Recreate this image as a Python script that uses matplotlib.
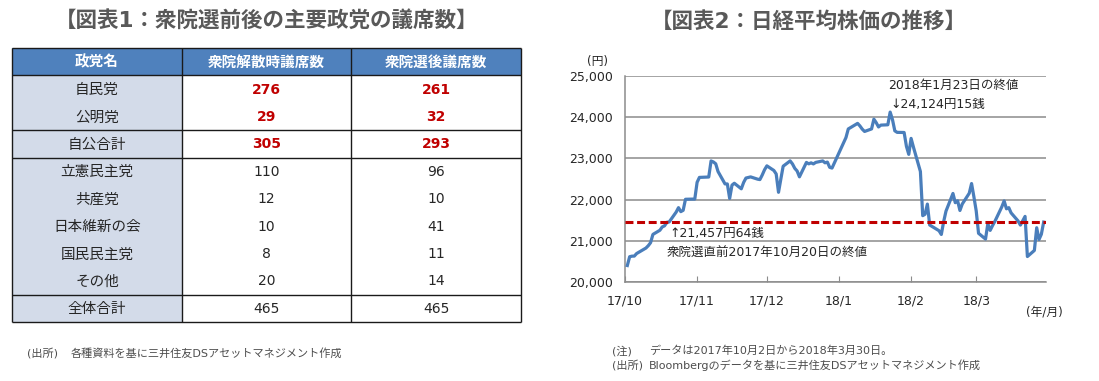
import matplotlib
matplotlib.use("Agg")
import matplotlib.pyplot as plt
from matplotlib.patches import Rectangle
import pandas as pd

plt.rcParams['font.family'] = ['DejaVu Sans', 'Noto Sans CJK JP']

# ---- table data ----
headers = ['政党名', '衆院解散時議席数', '衆院選後議席数']
parties = ['自民党', '公明党', '自公合計', '立憲民主党', '共産党',
           '日本維新の会', '国民民主党', 'その他', '全体合計']
seats_before = [276, 29, 305, 110, 12, 10, 8, 20, 465]
seats_after = [261, 32, 293, 96, 10, 41, 11, 14, 465]
n_red = 3

# ---- nikkei data (close, yen) ----
dates = ['2017-10-02', '2017-10-03', '2017-10-04', '2017-10-05', '2017-10-06',
         '2017-10-10', '2017-10-11', '2017-10-12', '2017-10-13', '2017-10-16',
         '2017-10-17', '2017-10-18', '2017-10-19', '2017-10-20', '2017-10-23',
         '2017-10-24', '2017-10-25', '2017-10-26', '2017-10-27', '2017-10-30',
         '2017-10-31', '2017-11-01', '2017-11-02', '2017-11-06', '2017-11-07',
         '2017-11-08', '2017-11-09', '2017-11-10', '2017-11-13', '2017-11-14',
         '2017-11-15', '2017-11-16', '2017-11-17', '2017-11-20', '2017-11-21',
         '2017-11-22', '2017-11-24', '2017-11-27', '2017-11-28', '2017-11-29',
         '2017-11-30', '2017-12-01', '2017-12-04', '2017-12-05', '2017-12-06',
         '2017-12-07', '2017-12-08', '2017-12-11', '2017-12-12', '2017-12-13',
         '2017-12-14', '2017-12-15', '2017-12-18', '2017-12-19', '2017-12-20',
         '2017-12-21', '2017-12-22', '2017-12-25', '2017-12-26', '2017-12-27',
         '2017-12-28', '2017-12-29', '2018-01-04', '2018-01-05', '2018-01-09',
         '2018-01-10', '2018-01-11', '2018-01-12', '2018-01-15', '2018-01-16',
         '2018-01-17', '2018-01-18', '2018-01-19', '2018-01-22', '2018-01-23',
         '2018-01-24', '2018-01-25', '2018-01-26', '2018-01-29', '2018-01-30',
         '2018-01-31', '2018-02-01', '2018-02-02', '2018-02-05', '2018-02-06',
         '2018-02-07', '2018-02-08', '2018-02-09', '2018-02-13', '2018-02-14',
         '2018-02-15', '2018-02-16', '2018-02-19', '2018-02-20', '2018-02-21',
         '2018-02-22', '2018-02-23', '2018-02-26', '2018-02-27', '2018-02-28',
         '2018-03-01', '2018-03-02', '2018-03-05', '2018-03-06', '2018-03-07',
         '2018-03-08', '2018-03-09', '2018-03-12', '2018-03-13', '2018-03-14',
         '2018-03-15', '2018-03-16', '2018-03-19', '2018-03-20', '2018-03-22',
         '2018-03-23', '2018-03-26', '2018-03-27', '2018-03-28', '2018-03-29',
         '2018-03-30']
closes = [20400, 20614, 20627, 20629, 20691,
          20824, 20881, 20955, 21155, 21256,
          21336, 21363, 21449, 21458, 21697,
          21805, 21708, 21740, 22008, 22012,
          22012, 22420, 22539, 22548, 22938,
          22914, 22869, 22681, 22381, 22380,
          22028, 22351, 22397, 22262, 22416,
          22523, 22551, 22496, 22486, 22597,
          22725, 22819, 22707, 22622, 22177,
          22498, 22811, 22939, 22866, 22758,
          22694, 22553, 22902, 22868, 22892,
          22866, 22903, 22939, 22893, 22911,
          22784, 22765, 23506, 23715, 23850,
          23788, 23710, 23654, 23715, 23952,
          23868, 23763, 23808, 23816, 24124,
          23941, 23669, 23632, 23629, 23292,
          23098, 23486, 23275, 22682, 21610,
          21645, 21891, 21383, 21245, 21154,
          21465, 21720, 22149, 21925, 21971,
          21736, 21893, 22154, 22390, 22068,
          21724, 21182, 21042, 21418, 21253,
          21368, 21469, 21824, 21968, 21777,
          21804, 21677, 21481, 21381, 21592,
          20618, 20766, 21317, 21031, 21159,
          21454]
ref_close = 21457.64
month_ticks = ['2017-10-01', '2017-11-01', '2017-12-01', '2018-01-01', '2018-02-01', '2018-03-01']
month_labels = ['17/10', '17/11', '17/12', '18/1', '18/2', '18/3']

W, H = 1099, 381
fig = plt.figure(figsize=(W / 100, H / 100), dpi=100)
fig.patch.set_facecolor('white')

# background axes in pixel coordinates for table and notes
bg = fig.add_axes([0, 0, 1, 1])
bg.set_xlim(0, W)
bg.set_ylim(H, 0)
bg.axis('off')

text_col = '#262626'
note_col = '#4d4d4d'
title_col = '#595959'

bg.text(267, 20, '【図表1：衆院選前後の主要政党の議席数】', ha='center', va='center',
        fontsize=15.5, fontweight='bold', color=title_col)
bg.text(809, 22, '【図表2：日経平均株価の推移】', ha='center', va='center',
        fontsize=15.5, fontweight='bold', color=title_col)

# table
col_x = [12, 182, 351, 521]
top = 48
rh = 27.4
n_rows = len(parties) + 1
bg.add_patch(Rectangle((col_x[0], top), col_x[3] - col_x[0], rh, facecolor='#4F81BD', edgecolor='none'))
bg.add_patch(Rectangle((col_x[0], top + rh), col_x[1] - col_x[0], rh * len(parties),
                       facecolor='#D3DBE9', edgecolor='none'))
for j, h in enumerate(headers):
    bg.text((col_x[j] + col_x[j + 1]) / 2, top + rh / 2 + 0.5, h, ha='center', va='center',
            fontsize=10.5, fontweight='bold', color='white')
for i, p in enumerate(parties):
    yc = top + rh * (i + 1.5) + 0.5
    red = i < n_red
    bg.text((col_x[0] + col_x[1]) / 2, yc, p, ha='center', va='center', fontsize=10.5, color=text_col)
    for j, v in enumerate([seats_before[i], seats_after[i]]):
        bg.text((col_x[j + 1] + col_x[j + 2]) / 2, yc, str(v), ha='center', va='center',
                fontsize=10, color='#C00000' if red else text_col,
                fontweight='bold' if red else 'normal')
lc = '#1a1a1a'
for k in [0, 1, 3, 4, 9, 10]:
    y = top + rh * k
    bg.plot([col_x[0], col_x[3]], [y, y], color=lc, lw=1.0, solid_capstyle='butt')
for x in col_x:
    bg.plot([x, x], [top, top + rh * n_rows], color=lc, lw=1.0, solid_capstyle='butt')

bg.text(27, 353, '(出所)', ha='left', va='center', fontsize=8, color=note_col)
bg.text(71, 353, '各種資料を基に三井住友DSアセットマネジメント作成', ha='left', va='center',
        fontsize=8, color=note_col)
bg.text(612, 351, '(注)', ha='left', va='center', fontsize=8, color=note_col)
bg.text(649, 351, 'データは2017年10月2日から2018年3月30日。', ha='left', va='center',
        fontsize=8, color=note_col)
bg.text(612, 365, '(出所)', ha='left', va='center', fontsize=8, color=note_col)
bg.text(649, 365, 'Bloombergのデータを基に三井住友DSアセットマネジメント作成', ha='left', va='center',
        fontsize=8, color=note_col)
bg.text(597, 62, '(円)', ha='center', va='center', fontsize=8.5, color=text_col)
bg.text(1044, 312, '(年/月)', ha='center', va='center', fontsize=8.5, color=text_col)

# chart
x0, x1, y0, y1 = 625, 1046, 76, 282
ax = fig.add_axes([x0 / W, 1 - y1 / H, (x1 - x0) / W, (y1 - y0) / H])
d = pd.to_datetime(dates)
grid_col = '#8c8c8c'
ax.plot(d, closes, color='#4A7EBB', lw=2.3, zorder=3, solid_joinstyle='round')
ax.axhline(ref_close, color='#C00000', lw=2.2, ls=(0, (2.6, 1.2)), zorder=4)
ax.set_xlim(pd.Timestamp('2017-10-01'), pd.Timestamp('2018-03-31'))
ax.set_ylim(20000, 25000)
ax.set_yticks(range(20000, 25001, 1000))
ax.set_yticklabels([f'{v:,}' for v in range(20000, 25001, 1000)])
ax.set_xticks(pd.to_datetime(month_ticks))
ax.set_xticklabels(month_labels)
ax.grid(axis='y', color=grid_col, lw=1.1, zorder=1)
ax.set_axisbelow(True)
for s in ['top', 'right']:
    ax.spines[s].set_visible(False)
for s in ['left', 'bottom']:
    ax.spines[s].set_color(grid_col)
    ax.spines[s].set_linewidth(1.1)
ax.tick_params(axis='y', length=0, pad=9, labelsize=9, labelcolor=text_col)
ax.tick_params(axis='x', direction='in', length=4, color=grid_col, pad=9, labelsize=9,
               labelcolor=text_col)

ax.text(pd.Timestamp('2018-01-22'), 24770, '2018年1月23日の終値', ha='left', va='center',
        fontsize=9, color=text_col)
ax.text(pd.Timestamp('2018-01-23'), 24320, '↓24,124円15銭', ha='left', va='center',
        fontsize=9, color=text_col)
ax.text(pd.Timestamp('2017-10-20'), 21170, '↑21,457円64銭', ha='left', va='center',
        fontsize=9, color=text_col)
ax.text(pd.Timestamp('2017-10-19'), 20690, '衆院選直前2017年10月20日の終値', ha='left', va='center',
        fontsize=9, color=text_col)

fig.savefig('out.png', dpi=100, facecolor='white')
